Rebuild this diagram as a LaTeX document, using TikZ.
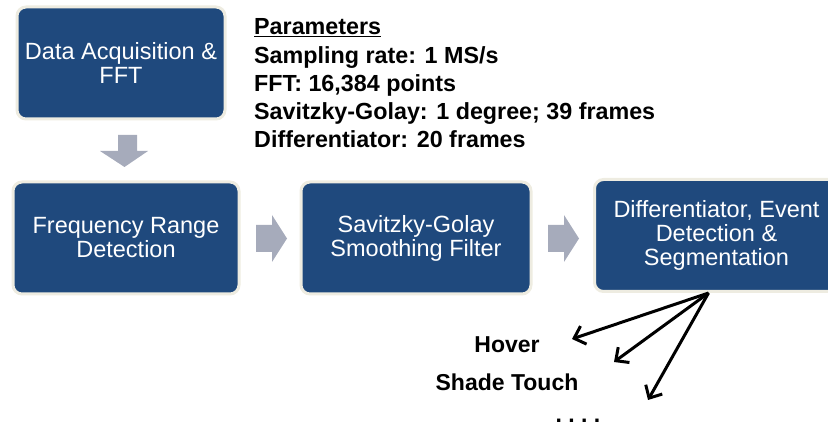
\documentclass[tikz,border=0pt]{standalone}
\usepackage{fontspec}
\setmainfont{Liberation Sans}
\usetikzlibrary{arrows.meta}
\definecolor{boxblue}{RGB}{31,73,125}
\definecolor{boxrim}{RGB}{238,236,225}
\definecolor{flowgray}{RGB}{166,171,187}
\begin{document}
\begin{tikzpicture}[
			x=1pt, y=-1pt,
			stage/.style={rectangle, rounded corners=9pt, fill=boxblue, draw=boxrim,
				line width=3pt, text=white, align=center, inner sep=0pt,
				minimum height=112pt, font=\fontsize{23.5}{24}\selectfont},
			blockarrow/.style={fill=flowgray},
			outcome/.style={font=\bfseries\fontsize{23}{26}\selectfont, inner sep=0pt},
			fan/.style={line width=3pt, -{Straight Barb[length=10pt,width=19pt,line width=3pt]}}
		]
		\useasboundingbox (0,0) rectangle (828,430);
		% processing stages
		\node[stage, minimum width=208pt] (acq) at (121,63) {Data Acquisition \&\\FFT};
		\node[stage, minimum width=226pt] (freq) at (126,238) {Frequency Range\\Detection};
		\node[stage, minimum width=230pt] (sgol) at (416,238) {Savitzky-Golay\\Smoothing Filter};
		\node[stage, minimum width=244pt] (diff) at (716.5,235.5) {Differentiator, Event\\Detection \&\\Segmentation};
		% block arrows between the stages
		\fill[blockarrow] (118,135) -- (137,135) -- (137,151) -- (148,151) -- (124.5,167) -- (100,151) -- (118,151) -- cycle;
		\fill[blockarrow] (256,225) -- (272,225) -- (272,215) -- (287,238.5) -- (272,262) -- (272,252) -- (256,252) -- cycle;
		\fill[blockarrow] (548,225) -- (564,225) -- (564,215) -- (579,238.5) -- (564,262) -- (564,252) -- (548,252) -- cycle;
		% parameter list
		\node[anchor=north west, align=left, inner sep=0pt, font=\bfseries\fontsize{23.3}{28.3}\selectfont] (params) at (254,18.5)
			{\underline{Parameters}\\Sampling rate: 1 MS/s\\FFT: 16,384 points\\Savitzky-Golay: 1 degree; 39 frames\\Differentiator: 20 frames};
		% detected events
		\node[outcome] (hover) at (507,345) {Hover};
		\node[outcome] (shade) at (507,382) {Shade Touch};
		\node[outcome] (more) at (578,421) {.\ .\ .\ .};
		\coordinate (fanstart) at ([xshift=-8pt]diff.south);
		\coordinate (hoverend) at (572,339);
		\coordinate (shadeend) at (614,362);
		\coordinate (moreend) at (648,400);
		\draw[fan] (fanstart) -- (hoverend);
		\draw[fan] (fanstart) -- (shadeend);
		\draw[fan] (fanstart) -- (moreend);
	\end{tikzpicture}
\end{document}
